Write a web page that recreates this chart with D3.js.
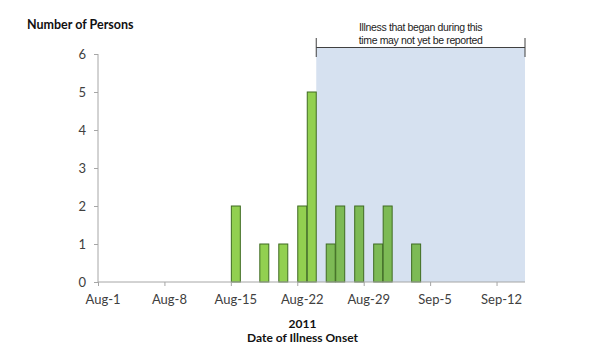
<!DOCTYPE html>
<html><head><meta charset="utf-8">
<script src="https://cdn.jsdelivr.net/npm/d3@7"></script>
<style>body{margin:0;background:#fff}svg{display:block}</style>
</head><body>
<svg id="c" width="600" height="355"></svg>
<script>
const onsetDates = ["2011-08-15","2011-08-18","2011-08-20","2011-08-22","2011-08-23","2011-08-25","2011-08-26","2011-08-28","2011-08-30","2011-08-31","2011-09-03"];
const persons = [2,1,1,2,5,1,2,2,1,2,1];
const xTickLabels = ["Aug-1","Aug-8","Aug-15","Aug-22","Aug-29","Sep-5","Sep-12"];
const yTicks = [0,1,2,3,4,5,6];
const domainStart = "2011-08-01", domainEnd = "2011-09-15", reportLagStart = "2011-08-24";
const noteLines = ["Illness that began during this","time may not yet be reported"];

const FONT = "Lato, Open Sans, Liberation Sans, sans-serif";
const parse = d3.utcParse("%Y-%m-%d");
const svg = d3.select("#c");
const x = d3.scaleUtc().domain([parse(domainStart), parse(domainEnd)]).range([98, 525]);
const y = d3.scaleLinear().domain([0, 6]).range([282, 54]);
const day = 86400000;
const tickDates = xTickLabels.map((_, i) => new Date(parse(domainStart).getTime() + i * 7 * day));

// shaded region
const s0 = x(parse(reportLagStart)), s1 = x(parse(domainEnd));
svg.append("rect").attr("x", s0).attr("y", 48).attr("width", s1 - s0).attr("height", y(0) - 48).attr("fill", "#d6e1f0");

// bars
const lag = parse(reportLagStart);
svg.append("g").selectAll("rect").data(onsetDates.map((d, i) => ({d: parse(d), v: persons[i]}))).join("rect")
  .attr("x", d => x(d.d) + 0.5)
  .attr("width", d => x(new Date(d.d.getTime() + day)) - x(d.d) - 0.5)
  .attr("y", d => y(d.v))
  .attr("height", d => y(0) - y(d.v))
  .attr("fill", d => d.d >= lag ? "#7dba55" : "#92d050")
  .attr("stroke", "#3f6b22").attr("stroke-width", 1);

// y axis
const yAxis = d3.axisLeft(y).tickValues(yTicks).tickSize(4).tickPadding(8).tickFormat(d3.format("d"));
const gy = svg.append("g").attr("transform", "translate(98,0)").call(yAxis);
gy.select(".domain").attr("stroke", "#a6a6a6").attr("d", `M0,${y(6)}V${y(0)}`);
gy.selectAll(".tick line").attr("stroke", "#a6a6a6");
gy.selectAll("text").attr("font-family", FONT).attr("font-size", 13).attr("fill", "#404040");

// x axis
const xAxis = d3.axisBottom(x).tickValues(tickDates).tickSize(4).tickPadding(9).tickFormat((d, i) => xTickLabels[i]);
const gx = svg.append("g").attr("transform", `translate(0,${y(0)})`).call(xAxis);
gx.select(".domain").attr("stroke", "#a6a6a6").attr("d", `M98,0H525`);
gx.selectAll(".tick line").attr("stroke", "#a6a6a6");
gx.selectAll("text").attr("dx", 4.5).attr("font-family", FONT).attr("font-size", 13).attr("fill", "#404040");

// bracket
const br = svg.append("g").attr("stroke", "#404040").attr("stroke-width", 1);
br.append("line").attr("x1", s0).attr("x2", s1).attr("y1", 47.5).attr("y2", 47.5);
br.append("line").attr("x1", s0).attr("x2", s0).attr("y1", 38).attr("y2", 57);
br.append("line").attr("x1", s1).attr("x2", s1).attr("y1", 38).attr("y2", 57);
svg.append("g").selectAll("text").data(noteLines).join("text")
  .attr("x", (s0 + s1) / 2).attr("y", (d, i) => 31 + i * 12.5)
  .attr("text-anchor", "middle").attr("font-family", "Liberation Sans, Arial, sans-serif")
  .attr("font-size", 10.5).attr("letter-spacing", -0.35).attr("fill", "#222").text(d => d);

// titles
svg.append("text").attr("x", 27).attr("y", 28.5).attr("font-family", FONT)
  .attr("font-weight", "bold").attr("font-size", 12.5).attr("fill", "#111").text("Number of Persons");
svg.append("text").attr("x", 302.5).attr("y", 327.5).attr("text-anchor", "middle").attr("font-family", FONT)
  .attr("font-weight", "bold").attr("font-size", 12).attr("fill", "#111").text("2011");
svg.append("text").attr("x", 302.5).attr("y", 341.5).attr("text-anchor", "middle").attr("font-family", FONT)
  .attr("font-weight", "bold").attr("font-size", 12).attr("fill", "#111").text("Date of Illness Onset");
</script>
</body></html>
